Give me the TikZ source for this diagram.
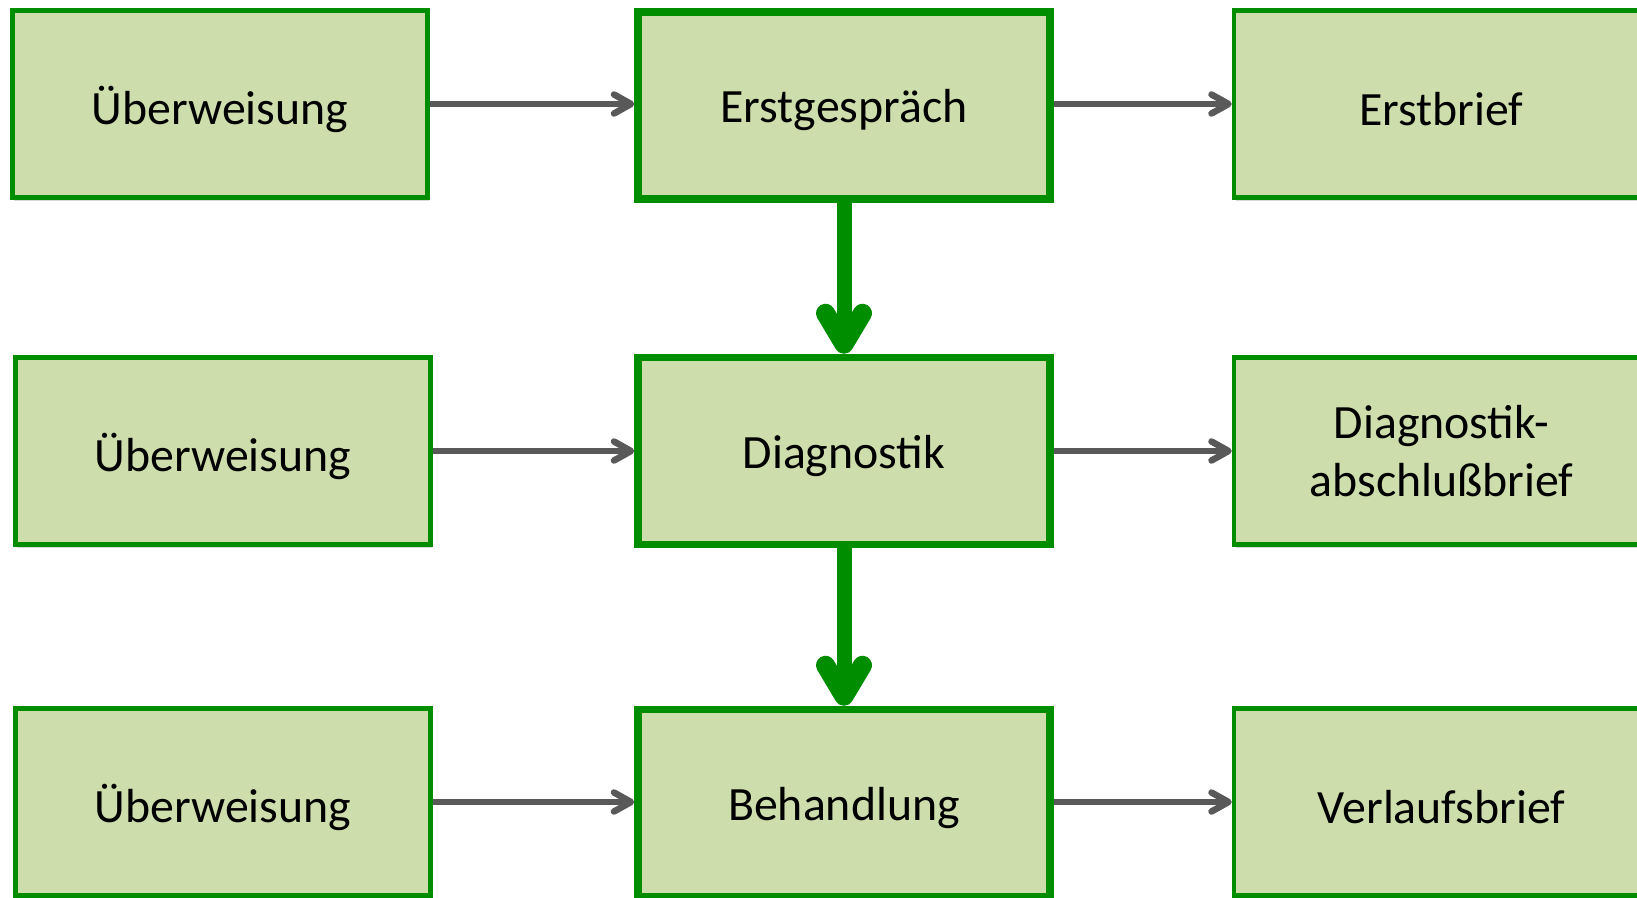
\documentclass[tikz,border=0pt]{standalone}
\usepackage{fontspec}
\setmainfont{Carlito}
\usetikzlibrary{arrows.meta,shadows}
\definecolor{boxfill}{HTML}{CDDDAC}
\definecolor{boxgreen}{HTML}{008E00}
\definecolor{arrowgray}{HTML}{595959}
\newcommand{\lowr}[1]{\raisebox{-5pt}[\height][\depth]{#1}}
\begin{document}
\begin{tikzpicture}[x=1pt,y=-1pt,
  box/.style={rectangle, draw=boxgreen, fill=boxfill, line width=4.5pt,
    minimum width=415pt, minimum height=187pt, inner sep=0pt,
    font=\fontsize{47.8}{58.5}\selectfont, align=center,
    drop shadow={shadow xshift=1.5pt, shadow yshift=-3.5pt, fill=black, opacity=0.15}},
  mainbox/.style={box, line width=7.5pt, minimum width=412pt},
  flow/.style={draw=arrowgray, line width=6.5pt, -{Straight Barb[length=17pt,width=19pt,round]}},
  mainflow/.style={draw=boxgreen, line width=15pt, -{Straight Barb[length=31pt,width=37pt,line width=19pt,round]}}
]
\useasboundingbox (0,0) rectangle (1637,897);
\fill[white] (0,0) rectangle (1637,897);

\node[box] (l1) at (220,104) {\lowr{Überweisung}};
\node[box] (l2) at (223,451) {\lowr{Überweisung}};
\node[box] (l3) at (223,802) {\lowr{Überweisung}};

\node[mainbox] (m1) at (844,105.5) {\lowr{Erstgespräch}};
\node[mainbox] (m2) at (844,451) {\lowr{Diagnostik}};
\node[mainbox] (m3) at (844,803) {\lowr{Behandlung}};

\node[box] (r1) at (1441.5,104) {\lowr{Erstbrief}};
\node[box] (r2) at (1441.5,451) {\lowr{\begin{tabular}{@{}c@{}}Diagnostik-\\abschlußbrief\end{tabular}}};
\node[box] (r3) at (1441.5,802) {\lowr{Verlaufsbrief}};

\draw[flow] (l1.east) -- (l1.east -| m1.west);
\draw[flow] (l2.east) -- (l2.east -| m2.west);
\draw[flow] (l3.east) -- (l3.east -| m3.west);

\draw[flow] (m1.east |- r1.west) -- (r1.west);
\draw[flow] (m2.east |- r2.west) -- (r2.west);
\draw[flow] (m3.east |- r3.west) -- (r3.west);

\draw[mainflow] (m1.south) -- (m2.north);
\draw[mainflow] (m2.south) -- (m3.north);
\end{tikzpicture}
\end{document}
